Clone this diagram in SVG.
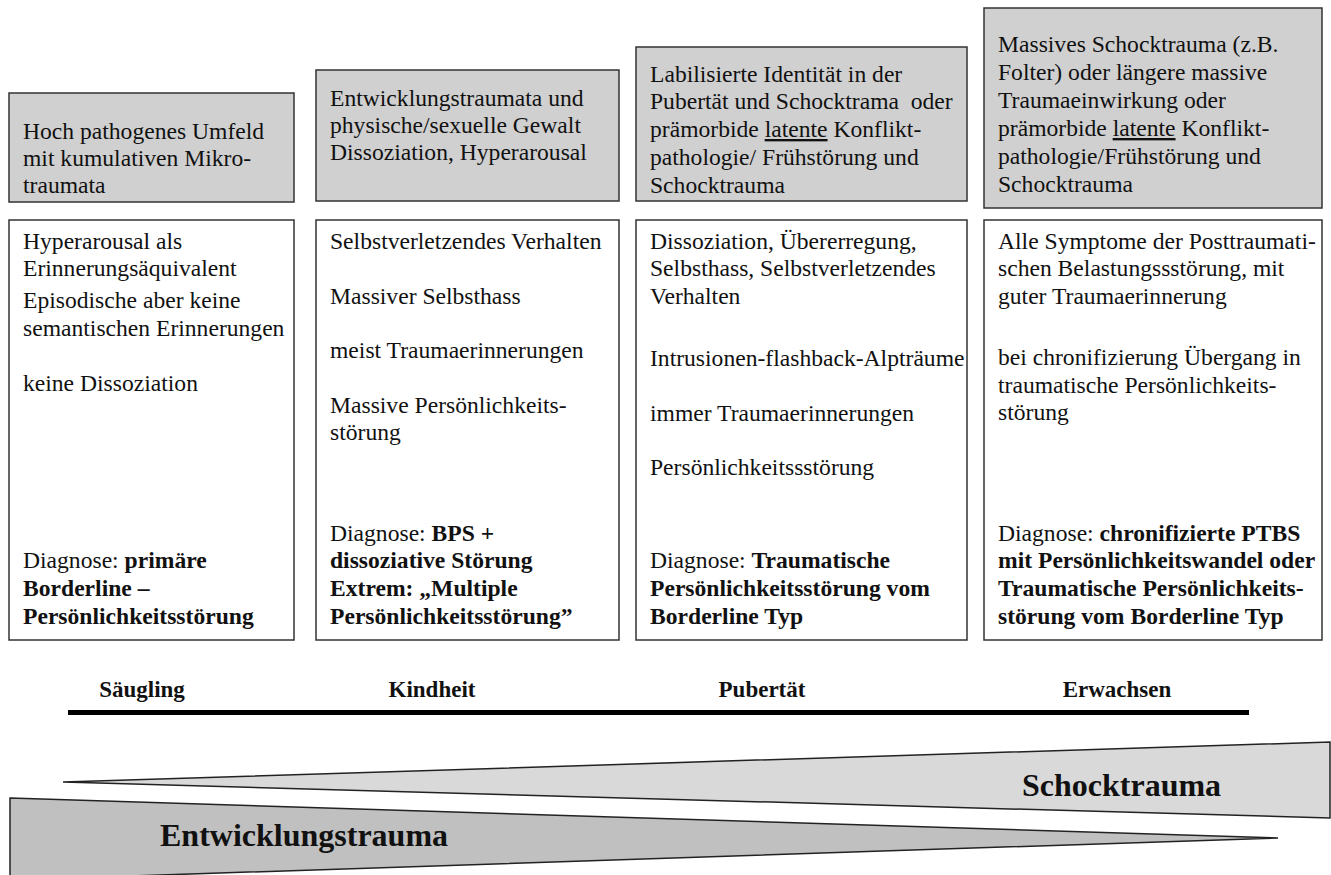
<svg xmlns="http://www.w3.org/2000/svg" width="1331" height="875" viewBox="0 0 1331 875">
<style>
.hdr{fill:#d0d0d0;stroke:#333;stroke-width:1.5}
.box{fill:#fff;stroke:#333;stroke-width:1.5}
text{font-family:"Liberation Serif","Times New Roman",serif;font-size:23.6px;fill:#111;white-space:pre}
.b{font-weight:bold}
.lbl{font-weight:bold;font-size:23px;text-anchor:middle}
.big{font-weight:bold;font-size:32px}
.u{text-decoration:underline}
</style>
<rect width="1331" height="875" fill="#fff"/>
<g id="col1-header"><rect class="hdr" x="9" y="93" width="285" height="109"/>
<text x="23" y="139">Hoch pathogenes Umfeld</text>
<text x="23" y="166">mit kumulativen Mikro-</text>
<text x="23" y="193">traumata</text></g>
<g id="col2-header"><rect class="hdr" x="316" y="70" width="303" height="131"/>
<text x="330" y="106">Entwicklungstraumata und</text>
<text x="330" y="133">physische/sexuelle Gewalt</text>
<text x="330" y="160">Dissoziation, Hyperarousal</text></g>
<g id="col3-header"><rect class="hdr" x="636" y="47" width="331" height="154"/>
<text x="650" y="82">Labilisierte Identität in der</text>
<text x="650" y="109">Pubertät und Schocktrama  oder</text>
<text x="650" y="137">prämorbide <tspan class="u">latente</tspan> Konflikt-</text>
<text x="650" y="165">pathologie/ Frühstörung und</text>
<text x="650" y="193">Schocktrauma</text></g>
<g id="col4-header"><rect class="hdr" x="984" y="8" width="338" height="200"/>
<text x="998" y="52">Massives Schocktrauma (z.B.</text>
<text x="998" y="80">Folter) oder längere massive</text>
<text x="998" y="108">Traumaeinwirkung oder</text>
<text x="998" y="136">prämorbide <tspan class="u">latente</tspan> Konflikt-</text>
<text x="998" y="164">pathologie/Frühstörung und</text>
<text x="998" y="192">Schocktrauma</text></g>
<g id="col1-body"><rect class="box" x="9" y="220" width="285" height="420"/>
<text x="23" y="249">Hyperarousal als</text>
<text x="23" y="276">Erinnerungsäquivalent</text>
<text x="23" y="308">Episodische aber keine</text>
<text x="23" y="336">semantischen Erinnerungen</text>
<text x="23" y="391">keine Dissoziation</text>
<text x="23" y="568">Diagnose: <tspan class="b">primäre</tspan></text>
<text x="23" y="596" class="b">Borderline –</text>
<text x="23" y="624" class="b">Persönlichkeitsstörung</text></g>
<g id="col2-body"><rect class="box" x="316" y="220" width="303" height="420"/>
<text x="330" y="249">Selbstverletzendes Verhalten</text>
<text x="330" y="304">Massiver Selbsthass</text>
<text x="330" y="358">meist Traumaerinnerungen</text>
<text x="330" y="413">Massive Persönlichkeits-</text>
<text x="330" y="440">störung</text>
<text x="330" y="541">Diagnose: <tspan class="b">BPS +</tspan></text>
<text x="330" y="568" class="b">dissoziative Störung</text>
<text x="330" y="596" class="b">Extrem: „Multiple</text>
<text x="330" y="624" class="b">Persönlichkeitsstörung”</text></g>
<g id="col3-body"><rect class="box" x="636" y="220" width="331" height="420"/>
<text x="650" y="249">Dissoziation, Übererregung,</text>
<text x="650" y="276">Selbsthass, Selbstverletzendes</text>
<text x="650" y="304">Verhalten</text>
<text x="650" y="366">Intrusionen-flashback-Alpträume</text>
<text x="650" y="421">immer Traumaerinnerungen</text>
<text x="650" y="475">Persönlichkeitssstörung</text>
<text x="650" y="568">Diagnose: <tspan class="b">Traumatische</tspan></text>
<text x="650" y="596" class="b">Persönlichkeitsstörung vom</text>
<text x="650" y="624" class="b">Borderline Typ</text></g>
<g id="col4-body"><rect class="box" x="984" y="220" width="338" height="420"/>
<text x="998" y="249">Alle Symptome der Posttraumati-</text>
<text x="998" y="276">schen Belastungssstörung, mit</text>
<text x="998" y="304">guter Traumaerinnerung</text>
<text x="998" y="365">bei chronifizierung Übergang in</text>
<text x="998" y="393">traumatische Persönlichkeits-</text>
<text x="998" y="420">störung</text>
<text x="998" y="541">Diagnose: <tspan class="b">chronifizierte PTBS</tspan></text>
<text x="998" y="568" class="b">mit Persönlichkeitswandel oder</text>
<text x="998" y="596" class="b">Traumatische Persönlichkeits-</text>
<text x="998" y="624" class="b">störung vom Borderline Typ</text></g>
<g id="timeline">
<line x1="68" y1="712.5" x2="1249" y2="712.5" stroke="#000" stroke-width="5"/>
<text class="lbl" x="142" y="697">Säugling</text>
<text class="lbl" x="432" y="697">Kindheit</text>
<text class="lbl" x="762" y="697">Pubertät</text>
<text class="lbl" x="1117" y="697">Erwachsen</text></g>
<g id="schocktrauma">
<polygon points="63,782 1330,742 1330,818" fill="#d9d9d9" stroke="#222" stroke-width="1.5"/>
<text class="big" x="1022" y="796">Schocktrauma</text></g>
<g id="entwicklungstrauma">
<polygon points="10,798 1278,838 10,880" fill="#c0c0c0" stroke="#222" stroke-width="1.5"/>
<text class="big" x="160" y="846">Entwicklungstrauma</text></g>
</svg>
